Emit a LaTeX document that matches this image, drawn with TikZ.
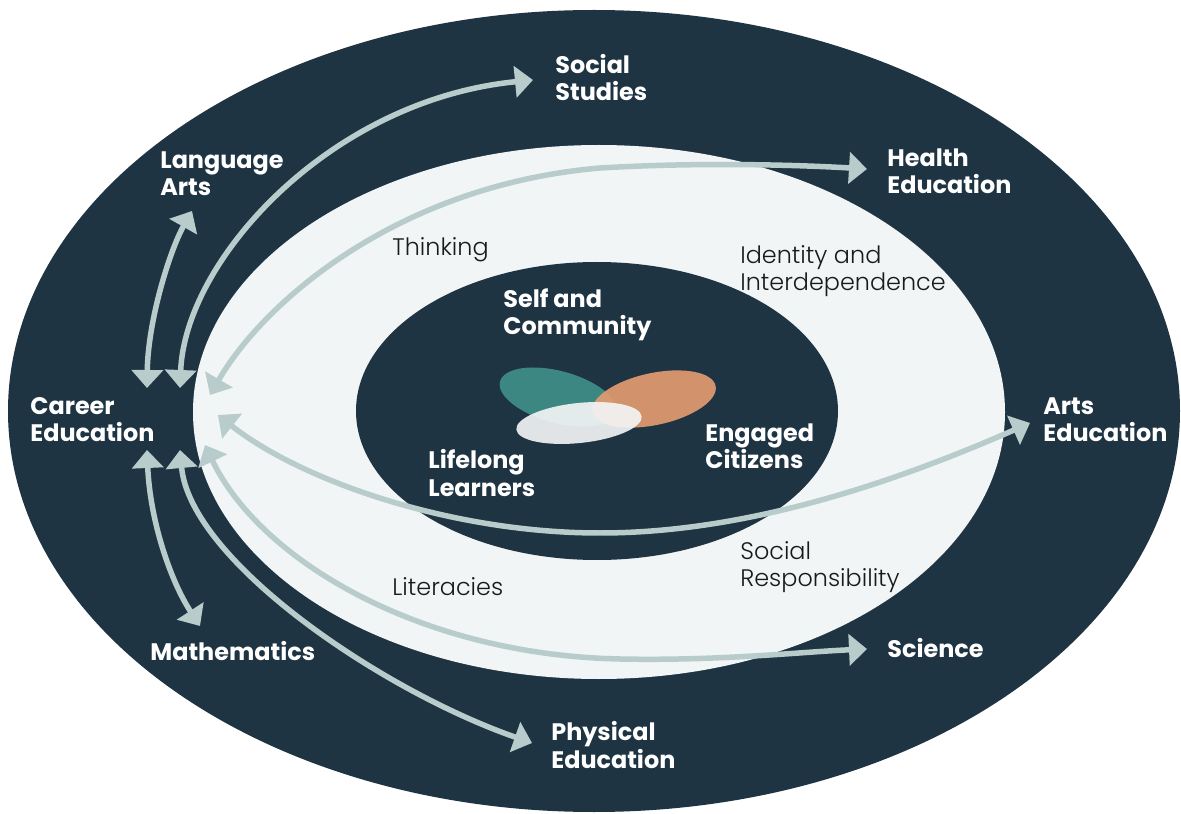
\documentclass[tikz,border=0pt]{standalone}
\usepackage{fontspec}
\setmainfont{Poppins}
\newfontfamily\poplight{Poppins Light}
\usetikzlibrary{arrows.meta,shapes.geometric}
\definecolor{navy}{HTML}{1F3443}
\definecolor{pale}{HTML}{F1F5F6}
\definecolor{sage}{HTML}{B8CCCB}
\definecolor{tealc}{HTML}{3D8782}
\definecolor{peach}{HTML}{E09B70}
\definecolor{mist}{HTML}{F2F4F5}
\definecolor{ink}{HTML}{1A1A1A}
\begin{document}
\begin{tikzpicture}[x=0.02cm,y=-0.02cm,
 subj/.style={font=\bfseries\fontsize{13.6pt}{15.4pt}\selectfont,text=white,align=left,anchor=west,inner sep=0pt},
 comp/.style={font=\poplight\fontsize{13.6pt}{15pt}\selectfont,text=ink,align=left,anchor=west,inner sep=0pt},
 arr/.style={draw=sage,line width=0.11cm,{Triangle[length=0.36cm,width=0.62cm]}-{Triangle[length=0.36cm,width=0.62cm]}},
 blob/.style={ellipse,inner sep=0pt,draw=none}]
\useasboundingbox (0,0) rectangle (1181,814);
\fill[white] (0,0) rectangle (1181,814);
% rings
\fill[navy] (594,411) ellipse [x radius=586, y radius=401];
\fill[pale] (599,412) ellipse [x radius=406, y radius=267];
\fill[navy] (597,411) ellipse [x radius=241, y radius=149];
% blobs
\node[blob,fill=tealc,minimum width=2.4cm,minimum height=1.04cm,rotate=-15] (tealE) at (558,397) {};
\node[blob,fill=peach,fill opacity=0.93,minimum width=2.52cm,minimum height=1.04cm,rotate=12] (peachE) at (654,399) {};
\node[blob,fill=mist,fill opacity=0.92,minimum width=2.52cm,minimum height=0.8cm,rotate=6] (mistE) at (579,423) {};
% subject labels
\node[subj] (ss) at (555,78) {Social\\Studies};
\node[subj] (he) at (887,171) {Health\\Education};
\node[subj] (la) at (160,174) {Language\\Arts};
\node[subj] (ce) at (30,420) {Career\\Education};
\node[subj] (ae) at (1043,420) {Arts\\Education};
\node[subj] (ma) at (150,651) {Mathematics};
\node[subj] (sc) at (887,648) {Science};
\node[subj] (pe) at (551,745) {Physical\\Education};
\node[subj] (selfc) at (503,315) {Self and\\Community};
\node[subj] (ll) at (428,473) {Lifelong\\Learners};
\node[subj] (ec) at (705,446) {Engaged\\Citizens};
% competency labels
\node[comp] (th) at (392,250) {Thinking};
\node[comp] (idi) at (740,271) {Identity and\\Interdependence};
\node[comp] (sr) at (740,567) {Social\\Responsibility};
\node[comp] (lit) at (392,587) {Literacies};
% arrow ends
\coordinate (ceLA) at (147,388);
\coordinate (laTip) at (192,211);
\coordinate (ceSS) at (180,388);
\coordinate (ssTip) at (533,80);
\coordinate (ceHE) at (210,395);
\coordinate (heMid) at (600,168);
\coordinate (heTip) at (867,169);
\coordinate (ceAE) at (218,415);
\coordinate (aeMid) at (600,533);
\coordinate (aeTip) at (1030,423);
\coordinate (ceSC) at (205,445);
\coordinate (scMid) at (620,659);
\coordinate (scTip) at (867,649);
\coordinate (cePE) at (180,450);
\coordinate (peTip) at (532,743);
\coordinate (ceMA) at (147,450);
\coordinate (maTip) at (200,626);
% arrows
\draw[arr] (ceLA) .. controls (148,320) and (170,250) .. (laTip);
\draw[arr] (ceSS) .. controls (185,260) and (330,100) .. (ssTip);
\draw[arr] (ceHE) .. controls (265,300) and (400,185) .. (heMid) .. controls (700,162) and (800,165) .. (heTip);
\draw[arr] (ceAE) .. controls (300,480) and (450,533) .. (aeMid) .. controls (750,533) and (900,480) .. (aeTip);
\draw[arr] (ceSC) .. controls (260,560) and (420,655) .. (scMid) .. controls (720,661) and (800,652) .. (scTip);
\draw[arr] (cePE) .. controls (190,560) and (380,690) .. (peTip);
\draw[arr] (ceMA) .. controls (150,520) and (170,580) .. (maTip);
\end{tikzpicture}
\end{document}
